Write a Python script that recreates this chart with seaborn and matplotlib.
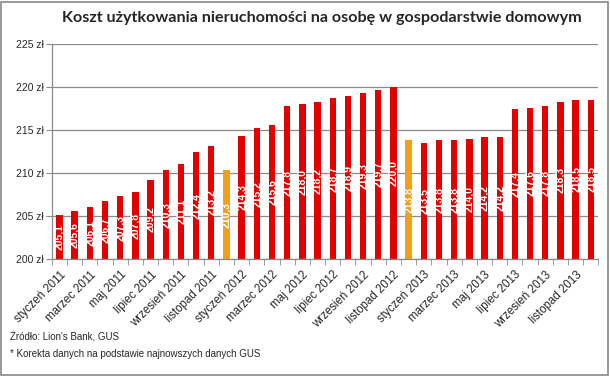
import pandas as pd
import matplotlib.pyplot as plt
import seaborn as sns
from matplotlib.patches import Rectangle

# Data
months = ["styczeń", "luty", "marzec", "kwiecień", "maj", "czerwiec",
          "lipiec", "sierpień", "wrzesień", "październik", "listopad", "grudzień"]
years = [2011, 2012, 2013]
values_2011 = [205.1, 205.6, 206.1, 206.7, 207.3, 207.8, 209.2, 210.3, 211.1, 212.4, 213.2, 210.3]
values_2012 = [214.3, 215.2, 215.6, 217.8, 218.0, 218.2, 218.7, 218.9, 219.3, 219.7, 220.0, 213.8]
values_2013 = [213.5, 213.8, 213.8, 214.0, 214.2, 214.2, 217.4, 217.6, 217.8, 218.3, 218.5, 218.5]
corrected = ["grudzień 2011", "grudzień 2012"]

labels = [f"{m} {y}" for y in years for m in months]
values = values_2011 + values_2012 + values_2013
df = pd.DataFrame({"miesiac": labels, "koszt": values})
df["typ"] = ["korekta" if l in corrected else "zwykly" for l in labels]

sns.set_style("white")
plt.rcParams["font.family"] = ["Liberation Sans", "DejaVu Sans"]

fig = plt.figure(figsize=(6.1, 3.76), dpi=100)
ax = fig.add_axes([0.085, 0.311, 0.896, 0.572])

sns.barplot(data=df, x="miesiac", y="koszt", hue="typ",
            palette={"zwykly": "#E20000", "korekta": "#F2A01A"},
            saturation=1, dodge=False, legend=False, width=0.42, ax=ax,
            linewidth=0)

ax.set_ylim(200, 225)
ax.set_yticks([200, 205, 210, 215, 220, 225])
ax.set_yticklabels([f"{t} zł" for t in [200, 205, 210, 215, 220, 225]], fontsize=7.5)
ax.yaxis.grid(True, color="#8a8a8a", linewidth=0.9)
ax.set_axisbelow(True)
ax.set_xlim(-0.5, len(labels) - 0.5)

# value labels centred inside the bars
for i, v in enumerate(values):
    ax.text(i, (200 + v) / 2, f"{v:.1f}".replace(".", ","), rotation=90,
            ha="center", va="center", color="white", fontsize=7.5,
            fontweight="bold")

# category labels every second month, tick marks between categories
ax.set_xticks(range(0, len(labels), 2))
ax.set_xticklabels(labels[::2], rotation=45, ha="right",
                   rotation_mode="anchor", fontsize=8.3)
ax.set_xticks([i - 0.5 for i in range(len(labels) + 1)], minor=True)
ax.tick_params(axis="x", which="major", length=0, pad=7)
ax.tick_params(axis="x", which="minor", length=4, color="#8a8a8a", direction="out")
ax.tick_params(axis="y", length=4, color="#8a8a8a", direction="out", pad=2)
ax.tick_params(bottom=True, left=True, which="both")
ax.set_xlabel("")
ax.set_ylabel("")

for s in ["top", "right"]:
    ax.spines[s].set_visible(False)
for s in ["left", "bottom"]:
    ax.spines[s].set_color("#8a8a8a")
    ax.spines[s].set_linewidth(0.9)

fig.text(0.528, 0.952, "Koszt użytkowania nieruchomości na osobę w gospodarstwie domowym",
         ha="center", va="center", fontsize=11.6, fontweight="bold",
         family=["Lato", "DejaVu Sans"])
fig.text(0.016, 0.103, "Źródło: Lion's Bank, GUS", fontsize=7, va="center")
fig.text(0.016, 0.058, "* Korekta danych na podstawie najnowszych danych GUS",
         fontsize=7, va="center")

fig.add_artist(Rectangle((0.002, 0.003), 0.995, 0.993, transform=fig.transFigure,
                         fill=False, edgecolor="#888888", linewidth=1.2))

plt.savefig("out.png", dpi=100)
